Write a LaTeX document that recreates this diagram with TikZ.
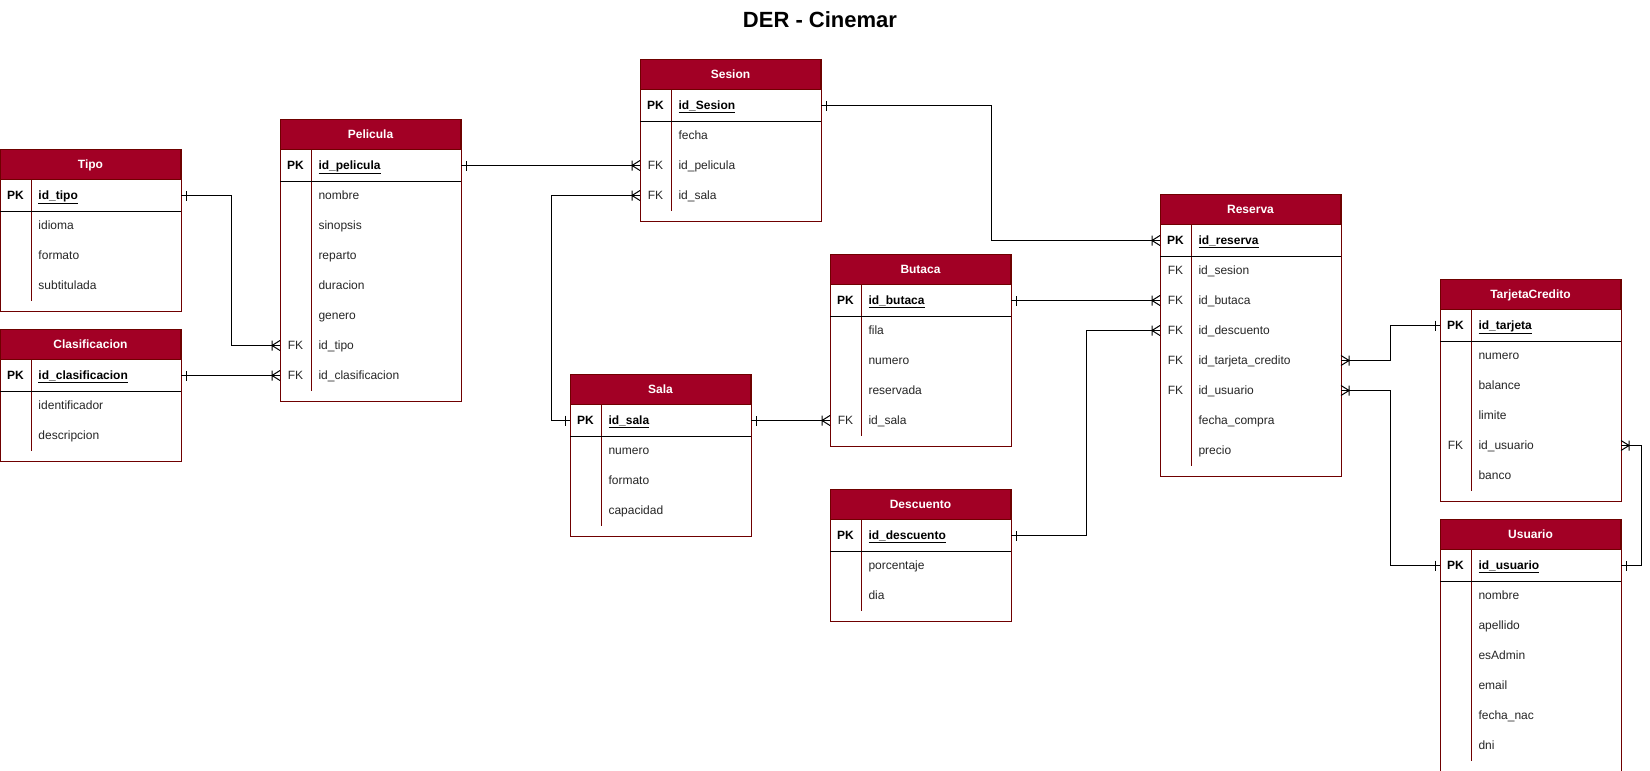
\documentclass[tikz,border=0pt]{standalone}
\usepackage{fontspec}
\setmainfont{Liberation Sans}
\usetikzlibrary{matrix,positioning,decorations.markings}

\definecolor{headred}{HTML}{A20025}
\definecolor{framered}{HTML}{6F0000}

\begin{document}
\fontsize{12pt}{14pt}\selectfont
\begin{tikzpicture}[x=1pt, y=-1pt, line width=1pt]

% styles
\tikzset{
  ertable/.style={matrix of nodes, nodes in empty cells, anchor=north west, inner sep=0pt, row sep=0pt, column sep=0pt,
    nodes={minimum height=30pt, text height=8.5pt, text depth=1pt, inner ysep=0pt, text=black!85},
    column 1/.style={nodes={minimum width=30pt, inner xsep=0pt}},
    column 2/.style={nodes={text width=134pt, inner xsep=8pt, align=left}}},
  tabhead/.style={rectangle, draw=framered, fill=headred, text=white, font=\bfseries, minimum width=180pt, minimum height=30pt, text height=8.5pt, text depth=0pt, inner sep=0pt},
  pk/.style={font=\bfseries, text=black},
  onemany/.style={draw=black, postaction={decorate, decoration={markings,
    mark=at position 0 with {\draw[line width=1pt] (5pt,-5pt) -- (5pt,5pt);},
    mark=at position 1 with {\draw[line width=1pt] (-8pt,-5pt) -- (-8pt,5pt) (-8pt,0pt) -- (0pt,-5pt) (-8pt,0pt) -- (0pt,5pt);}}}}
}

\useasboundingbox (0,0) rectangle (1650,771);
\fill[white] (0,0) rectangle (1650,771);

\node[font=\bfseries\fontsize{22pt}{26pt}\selectfont] (title) at (820,20) {DER - Cinemar};

% tables
\matrix[ertable] (tipo) at (0,180) {
  |[pk]| PK & |[pk]| \underline{id\_tipo} \\
  & idioma \\
  & formato \\
  & subtitulada \\
};
\node[tabhead, above=0pt of tipo] (tipo-h) {Tipo};

\matrix[ertable] (clasificacion) at (0,360) {
  |[pk]| PK & |[pk]| \underline{id\_clasificacion} \\
  & identificador \\
  & descripcion \\
};
\node[tabhead, above=0pt of clasificacion] (clasificacion-h) {Clasificacion};

\matrix[ertable] (pelicula) at (280,150) {
  |[pk]| PK & |[pk]| \underline{id\_pelicula} \\
  & nombre \\
  & sinopsis \\
  & reparto \\
  & duracion \\
  & genero \\
  FK & id\_tipo \\
  FK & id\_clasificacion \\
};
\node[tabhead, above=0pt of pelicula] (pelicula-h) {Pelicula};

\matrix[ertable] (sesion) at (640,90) {
  |[pk]| PK & |[pk]| \underline{id\_Sesion} \\
  & fecha \\
  FK & id\_pelicula \\
  FK & id\_sala \\
};
\node[tabhead, above=0pt of sesion] (sesion-h) {Sesion};

\matrix[ertable] (sala) at (570,405) {
  |[pk]| PK & |[pk]| \underline{id\_sala} \\
  & numero \\
  & formato \\
  & capacidad \\
};
\node[tabhead, above=0pt of sala] (sala-h) {Sala};

\matrix[ertable] (butaca) at (830,285) {
  |[pk]| PK & |[pk]| \underline{id\_butaca} \\
  & fila \\
  & numero \\
  & reservada \\
  FK & id\_sala \\
};
\node[tabhead, above=0pt of butaca] (butaca-h) {Butaca};

\matrix[ertable] (descuento) at (830,520) {
  |[pk]| PK & |[pk]| \underline{id\_descuento} \\
  & porcentaje \\
  & dia \\
};
\node[tabhead, above=0pt of descuento] (descuento-h) {Descuento};

\matrix[ertable] (reserva) at (1160,225) {
  |[pk]| PK & |[pk]| \underline{id\_reserva} \\
  FK & id\_sesion \\
  FK & id\_butaca \\
  FK & id\_descuento \\
  FK & id\_tarjeta\_credito \\
  FK & id\_usuario \\
  & fecha\_compra \\
  & precio \\
};
\node[tabhead, above=0pt of reserva] (reserva-h) {Reserva};

\matrix[ertable] (tarjeta) at (1440,310) {
  |[pk]| PK & |[pk]| \underline{id\_tarjeta} \\
  & numero \\
  & balance \\
  & limite \\
  FK & id\_usuario \\
  & banco \\
};
\node[tabhead, above=0pt of tarjeta] (tarjeta-h) {TarjetaCredito};

\matrix[ertable] (usuario) at (1440,550) {
  |[pk]| PK & |[pk]| \underline{id\_usuario} \\
  & nombre \\
  & apellido \\
  & esAdmin \\
  & email \\
  & fecha\_nac \\
  & dni \\
};
\node[tabhead, above=0pt of usuario] (usuario-h) {Usuario};

% frames, key column and PK separator
\foreach \tb in {tipo,clasificacion,pelicula,sesion,sala,butaca,descuento,reserva,tarjeta,usuario} {
  \draw[framered] (\tb-h.north west) rectangle ([yshift=-10pt]\tb.south east);
  \draw[framered] (\tb-1-1.north east) -- (\tb-1-1.east |- \tb.south);
  \draw (\tb-1-1.south west) -- (\tb-1-2.south east);
}

% relations (one side first, many side last)
\draw[onemany] (tipo-1-2.east) -- ++(50,0) |- (pelicula-7-1.west);
\draw[onemany] (clasificacion-1-2.east) -- (pelicula-8-1.west);
\draw[onemany] (pelicula-1-2.east) -- (sesion-3-1.west);
\draw[onemany] (sala-1-1.west) -- ++(-19,0) |- (sesion-4-1.west);
\draw[onemany] (sesion-1-2.east) -- ++(170,0) |- (reserva-1-1.west);
\draw[onemany] (sala-1-2.east) -- (butaca-5-1.west);
\draw[onemany] (butaca-1-2.east) -- (reserva-3-1.west);
\draw[onemany] (descuento-1-2.east) -- ++(75,0) |- (reserva-4-1.west);
\draw[onemany] (tarjeta-1-1.west) -- ++(-50,0) |- (reserva-5-2.east);
\draw[onemany] (usuario-1-1.west) -- ++(-50,0) |- (reserva-6-2.east);
\draw[onemany] (usuario-1-2.east) -- ++(20,0) |- (tarjeta-5-2.east);

\end{tikzpicture}
\end{document}
